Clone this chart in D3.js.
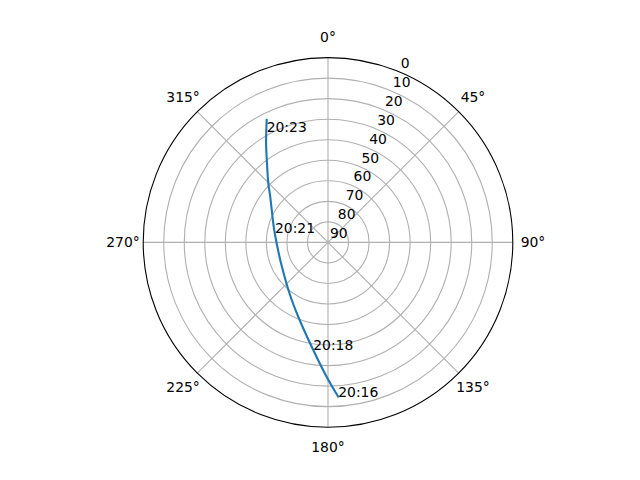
<!DOCTYPE html>
<html>
<head>
<meta charset="utf-8">
<script src="https://cdn.jsdelivr.net/npm/d3@7"></script>
<style>
  body { margin: 0; background: #ffffff; }
  text { font-family: "DejaVu Sans", sans-serif; font-size: 13.9px; fill: #000000; }
</style>
</head>
<body>
<script>
// pass track: azimuth (deg, clockwise from north) and elevation (deg)
const azimuth   = [176.2, 180.6, 187.8, 201.8, 215.8, 247.8, 269.0, 284.6, 309.3, 314.7, 322.4, 328.0, 333.4]
const elevation = [14.7, 24.6, 37.1, 51.0, 58.4, 65.1, 65.0, 62.8, 53.5, 49.1, 41.3, 33.1, 23.3]

// time labels along the track
const labelTimes = ["20:16", "20:18", "20:21", "20:23"]
const labelAz    = [176.2, 187.8, 279.7, 331.0]
const labelEl    = [14.7, 37.1, 63.8, 28.4]

const thetaTicks = [0, 45, 90, 135, 180, 225, 270, 315]
const rTicks = [0, 10, 20, 30, 40, 50, 60, 70, 80, 90]

const cx = 328, cy = 242.4, R = 184.8

let r = d3.scaleLinear().domain([90, 0]).range([0, R])
let rad = (deg) => deg * Math.PI / 180

let svg = d3.select("body").append("svg")
  .attr("width", 640)
  .attr("height", 480)

let g = svg.append("g")
  .attr("transform", `translate(${cx},${cy})`)

// grid circles
g.selectAll("circle.grid")
  .data(rTicks.filter(d => d > 0 && d < 90))
  .enter()
  .append("circle")
  .attr("class", "grid")
  .attr("r", d => r(d))
  .style("fill", "none")
  .style("stroke", "#b0b0b0")
  .style("stroke-width", 1.1)

// spokes
g.selectAll("line.spoke")
  .data(thetaTicks)
  .enter()
  .append("line")
  .attr("x1", 0)
  .attr("y1", 0)
  .attr("x2", d => R * Math.sin(rad(d)))
  .attr("y2", d => -R * Math.cos(rad(d)))
  .style("stroke", "#b0b0b0")
  .style("stroke-width", 1.1)

// outer spine
g.append("circle")
  .attr("r", R)
  .style("fill", "none")
  .style("stroke", "#000000")
  .style("stroke-width", 1.1)

// track
let line = d3.lineRadial()
  .angle(d => rad(d[0]))
  .radius(d => r(d[1]))
  .curve(d3.curveCatmullRom)

g.append("path")
  .datum(d3.zip(azimuth, elevation))
  .attr("d", line)
  .style("fill", "none")
  .style("stroke", "#1f77b4")
  .style("stroke-width", 2.1)
  .style("stroke-linecap", "square")

// theta labels
g.selectAll("text.theta")
  .data(thetaTicks)
  .enter()
  .append("text")
  .attr("x", d => 205 * Math.sin(rad(d)))
  .attr("y", d => -205 * Math.cos(rad(d)))
  .attr("dy", "0.33em")
  .attr("text-anchor", "middle")
  .text(d => d + "°")

// radial labels at 22.5 deg
g.selectAll("text.rlabel")
  .data(rTicks)
  .enter()
  .append("text")
  .attr("x", d => r(d) * Math.sin(rad(22.5)) + 2)
  .attr("y", d => -r(d) * Math.cos(rad(22.5)) - 4)
  .attr("text-anchor", "start")
  .text(d => d)

// time annotations
g.selectAll("text.time")
  .data(labelTimes)
  .enter()
  .append("text")
  .attr("x", (d, i) => r(labelEl[i]) * Math.sin(rad(labelAz[i])))
  .attr("y", (d, i) => -r(labelEl[i]) * Math.cos(rad(labelAz[i])))
  .attr("text-anchor", "start")
  .text(d => d)
</script>
</body>
</html>
